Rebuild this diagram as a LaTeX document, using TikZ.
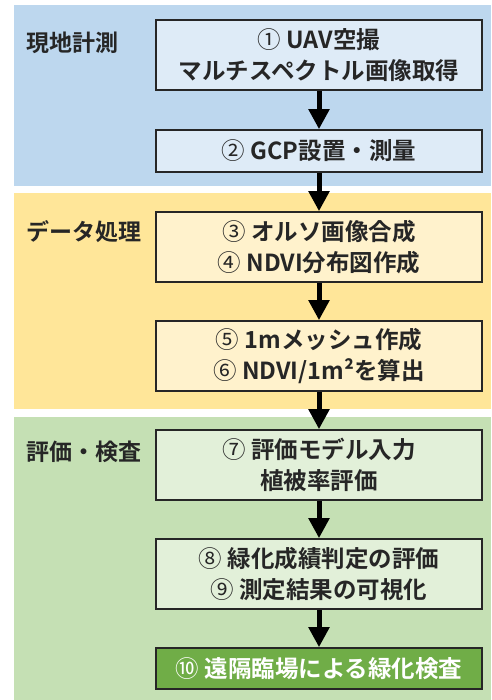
\documentclass[tikz,border=0pt]{standalone}
\usepackage{fontspec}
\usetikzlibrary{arrows.meta}
\newfontfamily\jp{Noto Sans CJK JP}[BoldFont={Noto Sans CJK JP Bold}]
\newcommand{\cn}[1]{{\mdseries #1}}
\definecolor{bandblue}{HTML}{BDD7EE}
\definecolor{boxblue}{HTML}{DEEBF7}
\definecolor{bandyellow}{HTML}{FFE699}
\definecolor{boxyellow}{HTML}{FFF2CC}
\definecolor{bandgreen}{HTML}{C5E0B4}
\definecolor{boxgreen}{HTML}{E2F0D9}
\definecolor{darkgreen}{HTML}{70AD47}
\tikzset{
  stepbox/.style={draw=black!85, line width=1.6pt, minimum width=326pt, align=center, inner sep=0pt,
    font=\jp\bfseries\fontsize{23.5}{31}\selectfont, text=black!85},
  tall/.style={minimum height=70pt},
  short/.style={minimum height=42pt},
  grouplabel/.style={anchor=west, inner sep=0pt, font=\jp\bfseries\fontsize{23}{26}\selectfont, text=black!85},
  flow/.style={line width=5pt, -{Triangle[width=20pt,length=20pt]}, black}
}
\begin{document}
\begin{tikzpicture}[x=1pt,y=-1pt]
\useasboundingbox (0,0) rectangle (491,700);
\fill[white] (0,0) rectangle (491,700);
\fill[bandblue] (14,5) rectangle (491,186);
\fill[bandyellow] (14,193) rectangle (491,409);
\fill[bandgreen] (14,417) rectangle (491,700);

\node[grouplabel] (g1) at (26,43) {現地計測};
\node[grouplabel] (g2) at (26,232) {データ処理};
\node[grouplabel] (g3) at (26,452) {評価・検査};

\node[stepbox, tall, fill=boxblue] (s1) at (319,55) {\cn{①} UAV空撮\\マルチスペクトル画像取得};
\node[stepbox, short, fill=boxblue] (s2) at (319,151) {\cn{②} GCP設置・測量};
\node[stepbox, tall, fill=boxyellow] (s3) at (319,247) {\cn{③} オルソ画像合成\\\cn{④} NDVI分布図作成};
\node[stepbox, tall, fill=boxyellow] (s4) at (319,356) {\cn{⑤} 1mメッシュ作成\\\cn{⑥} NDVI/1m²を算出};
\node[stepbox, tall, fill=boxgreen] (s5) at (319,465) {\cn{⑦} 評価モデル入力\\植被率評価};
\node[stepbox, tall, fill=boxgreen] (s6) at (319,574) {\cn{⑧} 緑化成績判定の評価\\\cn{⑨} 測定結果の可視化};
\node[stepbox, minimum height=41pt, fill=darkgreen, text=white] (s7) at (319,668.5) {\cn{⑩} 遠隔臨場による緑化検査};

\draw[flow] (s1.south) -- (s2.north);
\draw[flow] (s2.south) -- (s3.north);
\draw[flow] (s3.south) -- (s4.north);
\draw[flow] (s4.south) -- (s5.north);
\draw[flow] (s5.south) -- (s6.north);
\draw[flow] (s6.south) -- (s7.north);
\end{tikzpicture}
\end{document}
